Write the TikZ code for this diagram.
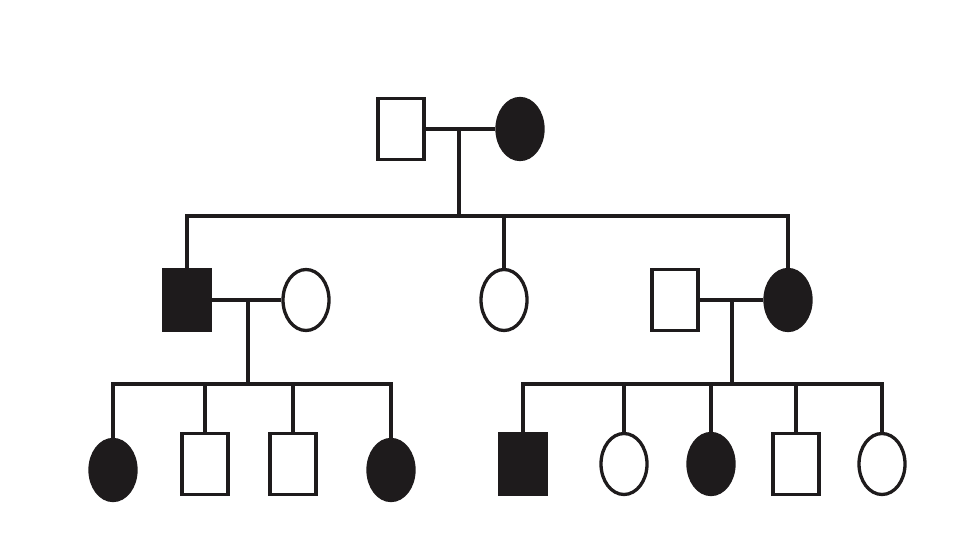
\documentclass[tikz,border=0pt]{standalone}
\usepackage{xcolor}
\usepackage{tikz}
\usetikzlibrary{shapes,positioning,calc}
\definecolor{pedink}{HTML}{1E1B1C}
\tikzstyle{male} = [draw=pedink, line width=3.3pt, fill=white, minimum width=46pt, minimum height=61pt, inner sep=0pt]
\tikzstyle{female} = [draw=pedink, line width=3.3pt, fill=white, ellipse, minimum width=46pt, minimum height=61pt, inner sep=0pt]
\tikzstyle{maleaff} = [male, fill=pedink]
\tikzstyle{femaleaff} = [female, fill=pedink]
\tikzstyle{link} = [draw=pedink, line width=3.8pt]

\begin{document}
\begin{tikzpicture}[x=1pt, y=-1pt]
\useasboundingbox (0,0) rectangle (960,540);

% generation I
\node[male] (f1) at (401,129) {};
\node[femaleaff] (m1) at (520,129) {};

% generation II
\node[maleaff] (c1) at (187,300) {};
\node[female] (s1) at (306,300) {};
\node[female] (c2) at (504,300) {};
\node[male] (s2) at (675,300) {};
\node[femaleaff] (c3) at (788,300) {};

% generation III
\foreach \n/\x/\y/\s in {g1/113/470/femaleaff, g2/205/464/male, g3/293/464/male, g4/391/470/femaleaff,
  g5/523/464/maleaff, g6/624/464/female, g7/711/464/femaleaff, g8/796/464/male, g9/882/464/female} {
  \node[\s] (\n) at (\x,\y) {};
}

% junctions
\coordinate (j1) at (459,129);
\coordinate (h1) at (459,216);
\coordinate (j2) at (248,300);
\coordinate (h2) at (248,384);
\coordinate (j3) at (732,300);
\coordinate (h3) at (732,384);

% couples and sibships
\draw[link] (f1) -- (m1);
\draw[link] (j1) -- (h1);
\draw[link] (c1) |- (h1) -| (c3);
\draw[link] (c2) -- (c2 |- h1);

\draw[link] (c1) -- (s1);
\draw[link] (j2) -- (h2);
\draw[link] (g1) |- (h2) -| (g4);
\foreach \n in {g2,g3} \draw[link] (\n) -- (\n |- h2);

\draw[link] (s2) -- (c3);
\draw[link] (j3) -- (h3);
\draw[link] (g5) |- (h3) -| (g9);
\foreach \n in {g6,g7,g8} \draw[link] (\n) -- (\n |- h3);
\end{tikzpicture}
\end{document}
